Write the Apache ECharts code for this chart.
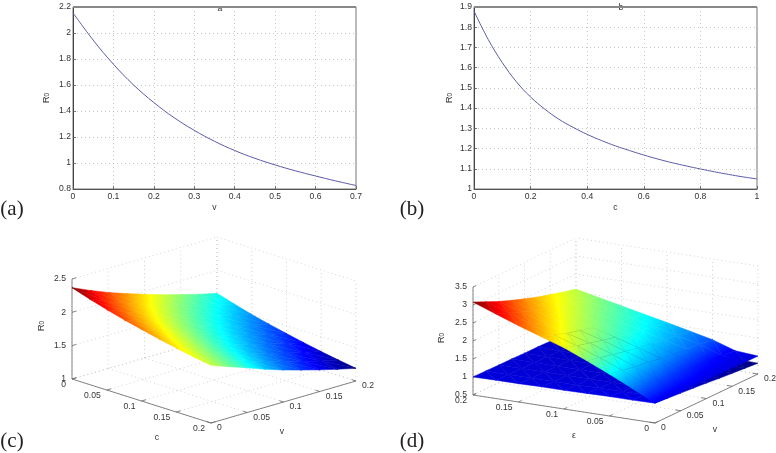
<!DOCTYPE html>
<html><head><meta charset="utf-8">
<style>html,body{margin:0;padding:0;background:#fff}#c{width:776px;height:453px}#c canvas{filter:blur(.35px)}</style>
<script src="https://cdn.jsdelivr.net/npm/echarts@6/dist/echarts.min.js"></script>
</head><body><div id="c"></div>
<script>
// ---- panel (a)
const aV  =[0,.05,.1,.15,.2,.25,.3,.35,.4,.45,.5,.55,.6,.65,.7];
const aR0 =[2.155,1.945,1.76,1.6,1.465,1.349,1.251,1.167,1.096,1.036,.985,.94,.90,.862,.827];
// ---- panel (b)
const bC  =[0,.05,.1,.15,.2,.25,.3,.35,.4,.45,.5,.55,.6,.65,.7,.75,.8,.85,.9,.95,1];
const bR0 =[1.88,1.74,1.625,1.53,1.455,1.395,1.345,1.305,1.27,1.24,1.213,1.19,1.168,1.148,1.13,1.114,1.099,1.085,1.072,1.06,1.05];
// ---- panel (c): rows are v = 0..0.2, columns are c = 0..0.2
const cTicksC=[0,.05,.1,.15,.2];
const cTicksV=[0,.05,.1,.15,.2];
const cTicksZ=[1,1.5,2,2.5];
const cSurface=[
[2.37,2.284,2.206,2.136,2.074,2.014,1.959,1.909,1.865],
[2.25,2.168,2.092,2.025,1.965,1.908,1.855,1.808,1.765],
[2.14,2.06,1.987,1.922,1.864,1.809,1.757,1.711,1.67],
[2.045,1.964,1.891,1.825,1.766,1.71,1.658,1.612,1.57],
[1.955,1.874,1.801,1.735,1.676,1.62,1.568,1.522,1.48],
[1.87,1.79,1.717,1.652,1.594,1.539,1.487,1.441,1.4],
[1.795,1.715,1.642,1.577,1.519,1.464,1.412,1.366,1.325],
[1.72,1.641,1.569,1.505,1.447,1.392,1.341,1.296,1.255],
[1.655,1.576,1.504,1.44,1.382,1.327,1.276,1.231,1.19]];
// ---- panel (d): rows are eps = 0..0.2, columns are v = 0..0.2
const dTicksE=[0,.05,.1,.15,.2];
const dTicksV=[0,.05,.1,.15,.2];
const dTicksZ=[.5,1,1.5,2,2.5,3,3.5];
const dUpper=[
[1.05,1.04,1.03,1.03,1.02,1.01,1.01,1.0,1.0],
[1.36,1.31,1.26,1.22,1.18,1.14,1.11,1.08,1.05],
[1.66,1.6,1.53,1.48,1.42,1.38,1.34,1.30,1.26],
[1.94,1.85,1.77,1.69,1.62,1.56,1.50,1.45,1.4],
[2.2,2.09,1.99,1.90,1.81,1.73,1.67,1.60,1.54],
[2.41,2.29,2.17,2.07,1.98,1.89,1.81,1.74,1.675],
[2.62,2.49,2.36,2.25,2.14,2.05,1.96,1.88,1.81],
[2.85,2.71,2.56,2.43,2.32,2.21,2.12,2.03,1.945],
[3.08,2.92,2.76,2.62,2.49,2.37,2.27,2.17,2.08]];
const dLower=[
[1.05,1.02,.99,.96,.93,.89,.86,.83,.8],
[1.04,1.02,.99,.97,.94,.91,.88,.85,.82],
[1.04,1.01,.99,.97,.95,.92,.89,.87,.84],
[1.03,1.01,.99,.97,.95,.93,.91,.88,.86],
[1.02,1.0,.99,.98,.96,.94,.92,.9,.88],
[1.02,1.0,.99,.98,.97,.95,.93,.92,.91],
[1.01,1.0,.99,.98,.97,.96,.95,.93,.93],
[1.01,1.0,.99,.99,.98,.97,.96,.95,.95],
[1.0,1.0,.99,.99,.98,.98,.97,.97,.97]];

const SANS='"Liberation Sans",Arial,sans-serif', TXT='#333', FS=8.6;
const JET=[[0,0,0,.5],[.125,0,0,1],[.375,0,1,1],[.625,1,1,0],[.875,1,0,0],[1,.5,0,0]];
function jet(t){t=Math.max(0,Math.min(1,t));
  for(let i=1;i<JET.length;i++){if(t<=JET[i][0]){const a=JET[i-1],b=JET[i],f=(t-a[0])/(b[0]-a[0]);
    return 'rgb('+[1,2,3].map(k=>Math.round(255*(a[k]+(b[k]-a[k])*f))).join(',')+')';}}
  return 'rgb(128,0,0)';}
function shade(P,T){ // exact Gouraud shading of a triangle as a linear gradient
  const t0=T[0],ax=P[1][0]-P[0][0],ay=P[1][1]-P[0][1],bx=P[2][0]-P[0][0],by=P[2][1]-P[0][1],
    da=T[1]-t0,db=T[2]-t0,det=ax*by-ay*bx;
  const tmin=Math.min(...T),tmax=Math.max(...T);
  if(Math.abs(det)<1e-6||tmax-tmin<1e-5)return jet((tmin+tmax)/2);
  const gx=(da*by-db*ay)/det,gy=(db*ax-da*bx)/det,g2=gx*gx+gy*gy;
  const pt=t=>[P[0][0]+gx*(t-t0)/g2,P[0][1]+gy*(t-t0)/g2],A=pt(tmin),B=pt(tmax);
  const stops=[{offset:0,color:jet(tmin)}];
  JET.forEach(s=>{if(s[0]>tmin&&s[0]<tmax)stops.push({offset:(s[0]-tmin)/(tmax-tmin),color:jet(s[0])});});
  stops.push({offset:1,color:jet(tmax)});
  return new echarts.graphic.LinearGradient(A[0],A[1],B[0],B[1],stops,true);}

// 3D panels
const panelC={idx:2,grid:{left:0,top:226,width:388,height:227},
  o:[72,153],ax:[139,44],ay:[145,-42],az:[0,-100],xr:.2,yr:.2,z0:1,zr:1.5,
  wallX:0,wallY:.2,xTicks:cTicksC,yTicks:cTicksV,zTicks:cTicksZ};
const panelD={idx:3,grid:{left:388,top:226,width:388,height:227},
  o:[267,197],ax:[-182,-28],ay:[103,-49],az:[0,-108],xr:.2,yr:.2,z0:.5,zr:3,
  wallX:.2,wallY:.2,xTicks:dTicksE,yTicks:dTicksV,zTicks:dTicksZ};
function proj(p,x,y,z){const a=x/p.xr,b=y/p.yr,c=(z-p.z0)/p.zr;
  return [p.o[0]+a*p.ax[0]+b*p.ay[0]+c*p.az[0],p.o[1]+a*p.ax[1]+b*p.ay[1]+c*p.az[1]];}
function frame(p){
  const dotted=[],solid=[],texts=[],zt=p.zTicks,z0=zt[0],z1=zt[zt.length-1],xm=p.xr,ym=p.yr;
  p.xTicks.forEach(x=>{dotted.push([[x,0,z0],[x,ym,z0]]);dotted.push([[x,ym,z0],[x,ym,z1]]);});
  p.yTicks.forEach(y=>{dotted.push([[0,y,z0],[xm,y,z0]]);dotted.push([[p.wallX,y,z0],[p.wallX,y,z1]]);});
  zt.forEach(z=>{dotted.push([[p.wallX,0,z],[p.wallX,ym,z]]);dotted.push([[0,ym,z],[xm,ym,z]]);});
  const fx=p.wallX===0?xm:0; // x of the front edge (v axis)
  solid.push([[p.wallX,0,z0],[p.wallX,0,z1]],[[0,0,z0],[xm,0,z0]],[[fx,0,z0],[fx,ym,z0]]);
  p.xTicks.forEach(x=>{solid.push([[x,0,z0],[x,ym*.03,z0]]);texts.push({at:[x,0,z0],dx:-6,dy:6,t:String(x),al:'right'});});
  p.yTicks.forEach(y=>{solid.push([[fx,y,z0],[fx+(p.wallX===0?-1:1)*xm*.03,y,z0]]);texts.push({at:[fx,y,z0],dx:6,dy:5,t:String(y),al:'left'});});
  zt.forEach(z=>{solid.push([[p.wallX,0,z],[p.wallX,ym*.03,z]]);texts.push({at:[p.wallX,0,z],dx:-6,dy:0,t:String(z),al:'right'});});
  return {dotted,solid,texts};}
function triangles(rows,reverseRow){ // painter order: far cells first
  const n=rows.length,m=rows[0].length,list=[];
  for(let a=0;a<n-1;a++){const r=reverseRow?n-2-a:a;
    for(let b=m-2;b>=0;b--){list.push([r,b,0],[r,b,1]);}}
  return list;}
function surfaceSeries(p,rowsRef,mapXY,zmin,zmax,rev,z){
  const m=rowsRef.length-1,k=rowsRef[0].length-1;
  return {type:'custom',xAxisIndex:p.idx,yAxisIndex:p.idx,z,silent:true,animation:false,
    data:triangles(rowsRef,rev),
    renderItem(params,api){
      const r=api.value(0),c=api.value(1),w=api.value(2);
      const cells=w===0?[[r,c],[r+1,c],[r+1,c+1]]:[[r,c],[r+1,c+1],[r,c+1]];
      const P=[],T=[];
      cells.forEach(q=>{const xy=mapXY(q[0]/m,q[1]/k),v=rowsRef[q[0]][q[1]];
        P.push(api.coord(proj(p,xy[0],xy[1],v)));T.push((v-zmin)/(zmax-zmin));});
      const f=shade(P,T);
      return {type:'polygon',shape:{points:P},style:{fill:f,stroke:f,lineWidth:.5}};
    }};}
// faint lattice seen on the upper sheet of panel (d): row 2..5, column 1..4
const latticeRows=[2,3,4,5], latticeCols=[1,2,3,4];
function latticeSeries(p,rows){
  const segs=[],m=rows.length-1,k=rows[0].length-1;
  latticeRows.forEach(r=>{latticeCols.slice(0,-1).forEach(c=>segs.push([[r,c],[r,c+1]]));});
  latticeCols.forEach(c=>{latticeRows.slice(0,-1).forEach(r=>segs.push([[r,c],[r+1,c]]));});
  return {type:'custom',xAxisIndex:p.idx,yAxisIndex:p.idx,z:4.5,silent:true,animation:false,data:segs.map((s,i)=>[i,0]),
    renderItem(params,api){
      const s=segs[api.value(0)],q=s.map(e=>api.coord(proj(p,e[0]/m*.2,e[1]/k*.2,rows[e[0]][e[1]])));
      return {type:'line',shape:{x1:q[0][0],y1:q[0][1],x2:q[1][0],y2:q[1][1]},style:{stroke:'rgba(0,0,0,.1)',lineWidth:.6}};
    }};}
function frameSeries(p){
  const fr=frame(p),items=[];
  fr.dotted.forEach((s,i)=>items.push([0,i]));
  fr.solid.forEach((s,i)=>items.push([1,i]));
  return [{type:'custom',xAxisIndex:p.idx,yAxisIndex:p.idx,z:1,silent:true,animation:false,data:items,
    renderItem(params,api){
      const kind=api.value(0),s=(kind?fr.solid:fr.dotted)[api.value(1)];
      const a=api.coord(proj(p,...s[0])),b=api.coord(proj(p,...s[1]));
      return {type:'line',shape:{x1:a[0],y1:a[1],x2:b[0],y2:b[1]},
        style:kind?{stroke:'#666',lineWidth:.8}:{stroke:'#c2c2c2',lineWidth:.7,lineDash:[1,3]}};
    }},
    {type:'custom',xAxisIndex:p.idx,yAxisIndex:p.idx,z:5,silent:true,animation:false,data:fr.texts.map((t,i)=>[i,0]),
    renderItem(params,api){
      const t=fr.texts[api.value(0)],q=api.coord(proj(p,...t.at));
      return {type:'text',x:q[0]+t.dx,y:q[1]+t.dy,style:{text:t.t,fill:TXT,font:FS+'px '+SANS,textAlign:t.al,textVerticalAlign:'middle',verticalAlign:'middle'}};
    }}];}

const line=(i,x,y)=>({type:'line',xAxisIndex:i,yAxisIndex:i,data:x.map((v,k)=>[v,y[k]]),smooth:.4,showSymbol:false,animation:false,silent:true,
  lineStyle:{color:'#5c5ca8',width:1}});
const labelStyle={color:TXT,fontFamily:SANS,fontSize:FS};
const cartX=(g,max,iv,name)=>({gridIndex:g,type:'value',min:0,max,interval:iv,name,nameLocation:'middle',nameGap:14,
  nameTextStyle:{color:TXT,fontFamily:SANS,fontSize:FS},
  axisLine:{onZero:false,lineStyle:{color:'#555',width:1}},axisTick:{inside:true,length:3,lineStyle:{color:'#555',width:.8}},
  axisLabel:{...labelStyle,margin:3,showMinLabel:true,showMaxLabel:true,hideOverlap:false},splitLine:{show:true,lineStyle:{type:[1,3],color:'#b8b8b8',width:.8}}});
const cartY=(g,min,max,iv,gap)=>({gridIndex:g,type:'value',min,max,interval:iv,name:'R{s|0}',nameLocation:'middle',nameGap:gap,nameRotate:90,
  nameTextStyle:{color:TXT,fontFamily:SANS,fontSize:9.5,rich:{s:{fontSize:6.5,verticalAlign:'bottom',color:TXT,fontFamily:SANS}}},
  axisLine:{onZero:false,lineStyle:{color:'#444',width:1}},axisTick:{inside:true,length:3,lineStyle:{color:'#555',width:.8}},
  axisLabel:{...labelStyle,margin:2,showMinLabel:true,showMaxLabel:true},splitLine:{show:true,lineStyle:{type:[1,3],color:'#b8b8b8',width:.8}}});
const plane=(p)=>[{gridIndex:p.idx,type:'value',min:0,max:388,show:false},{gridIndex:p.idx,type:'value',min:0,max:227,inverse:true,show:false}];
const pc=plane(panelC),pd=plane(panelD);
const T=(x,y,t,font,extra)=>({type:'text',x,y,silent:true,style:{text:t,font,fill:extra&&extra.fill||'#222',textAlign:'center',textVerticalAlign:'middle',verticalAlign:'middle'}});
const R0=(x,y)=>({type:'text',x,y,rotation:Math.PI/2,silent:true,style:{text:'R{s|0}',fill:TXT,font:'9.5px '+SANS,align:'center',verticalAlign:'middle',
  rich:{s:{fontSize:6.5,verticalAlign:'bottom',fill:TXT,fontFamily:SANS}}}});

const chart=echarts.init(document.getElementById('c'),null,{renderer:'canvas'});
chart.setOption({animation:false,backgroundColor:'#fff',
  title:[{text:'a',left:215,top:-1,textAlign:'center',textStyle:{fontSize:FS,fontWeight:'normal',color:TXT,fontFamily:SANS}},
         {text:'b',left:616,top:-2,textAlign:'center',textStyle:{fontSize:FS,fontWeight:'normal',color:TXT,fontFamily:SANS}}],
  grid:[{left:73,top:7,width:283,height:182,show:true,borderColor:'#777',borderWidth:1},
        {left:474,top:7,width:283,height:182,show:true,borderColor:'#777',borderWidth:1},
        panelC.grid,panelD.grid],
  xAxis:[cartX(0,.7,.1,'v'),cartX(1,1,.2,'c'),pc[0],pd[0]],
  yAxis:[cartY(0,.8,2.2,.2,22),cartY(1,1,1.9,.1,20),pc[1],pd[1]],
  series:[line(0,aV,aR0),line(1,bC,bR0),
    ...frameSeries(panelC),...frameSeries(panelD),
    surfaceSeries(panelC,cSurface,(a,b)=>[b*.2,a*.2],1.19,2.37,false,3),
    surfaceSeries(panelD,dLower,(a,b)=>[a*.2,b*.2],.8,3.08,true,3),
    surfaceSeries(panelD,dUpper,(a,b)=>[a*.2,b*.2],.8,3.08,true,4),
    latticeSeries(panelD,dUpper)],
  graphic:[
    {type:'line',shape:{x1:73,y1:7,x2:356,y2:7},style:{stroke:'#888',lineWidth:2},silent:true,z:10},
    {type:'line',shape:{x1:474,y1:7,x2:757,y2:7},style:{stroke:'#888',lineWidth:2},silent:true,z:10},
    T(12,209,'(a)','21px "Liberation Serif",serif'),T(412,209,'(b)','21px "Liberation Serif",serif'),
    T(12,441,'(c)','21px "Liberation Serif",serif'),T(412,441,'(d)','21px "Liberation Serif",serif'),
    R0(41,326),R0(441,338),
    T(157,438,'c','8.6px '+SANS,{fill:TXT}),T(282,432,'v','8.6px '+SANS,{fill:TXT}),
    T(574,436,'ε','8.6px '+SANS,{fill:TXT}),T(715,430,'v','8.6px '+SANS,{fill:TXT})
  ]});
</script></body></html>
